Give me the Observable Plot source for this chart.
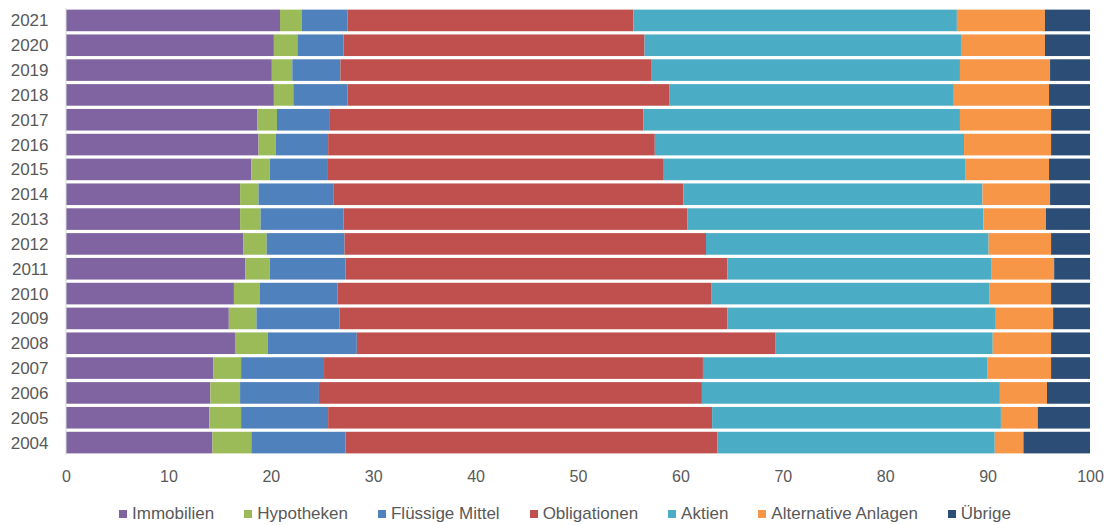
<!DOCTYPE html>
<html>
<head>
<meta charset="utf-8">
<script src="https://cdn.jsdelivr.net/npm/d3@7"></script>
<script src="https://cdn.jsdelivr.net/npm/@observablehq/plot@0.6"></script>
<style>
  body { margin: 0; background: #fff; font-family: "Liberation Sans", Arial, sans-serif; }
  #chart svg { display: block; }
  .legend { display: flex; justify-content: center; align-items: center; margin-top: 9px; height: 20px; color: #595959; font-size: 17px; padding-left: 18px; }
  .legend .item { display: flex; align-items: center; margin: 0 15px; }
  .legend .sw { width: 8px; height: 8px; margin-right: 5px; }
</style>
</head>
<body>
<div id="chart"></div>
<script>
const years = ["2004","2005","2006","2007","2008","2009","2010","2011","2012","2013","2014","2015","2016","2017","2018","2019","2020","2021"];
const seriesNames = ["Immobilien","Hypotheken","Flüssige Mittel","Obligationen","Aktien","Alternative Anlagen","Übrige"];
const seriesColors = ["#8064A2","#9BBB59","#4F81BD","#C0504D","#4BACC6","#F79646","#2C4D75"];
// values per year, 2004 .. 2021 (percent)
const immobilien   = [14.3,14.0,14.1,14.4,16.5,15.9,16.4,17.5,17.3,17.0,17.0,18.1,18.8,18.7,20.3,20.1,20.3,20.9];
const hypotheken   = [3.8,3.1,2.9,2.7,3.2,2.7,2.5,2.4,2.3,2.0,1.8,1.8,1.7,1.9,1.9,2.0,2.3,2.1];
const fluessige    = [9.2,8.5,7.7,8.1,8.7,8.1,7.6,7.4,7.6,8.1,7.3,5.6,5.1,5.1,5.3,4.7,4.5,4.5];
const obligationen = [36.3,37.5,37.4,37.0,40.9,37.9,36.5,37.3,35.3,33.6,34.2,32.8,31.9,30.7,31.4,30.4,29.4,27.9];
const aktien       = [27.1,28.2,29.1,27.8,21.2,26.2,27.2,25.8,27.6,28.9,29.2,29.5,30.2,30.9,27.8,30.1,30.9,31.6];
const alternative  = [2.8,3.6,4.6,6.2,5.7,5.6,6.0,6.1,6.1,6.1,6.6,8.2,8.5,8.9,9.3,8.8,8.2,8.6];
const uebrige      = [6.5,5.1,4.2,3.8,3.8,3.6,3.8,3.5,3.8,4.3,3.9,4.0,3.8,3.8,4.0,3.9,4.4,4.4];
const xTicks = [0,10,20,30,40,50,60,70,80,90,100];

const seriesValues = [immobilien, hypotheken, fluessige, obligationen, aktien, alternative, uebrige];
const data = [];
seriesNames.forEach((s, i) => {
  years.forEach((y, j) => data.push({year: y, series: s, value: seriesValues[i][j]}));
});

const chart = Plot.plot({
  width: 1112,
  height: 495,
  marginLeft: 66,
  marginRight: 22,
  marginTop: 8,
  marginBottom: 40,
  style: { fontFamily: "'Liberation Sans', Arial, sans-serif", color: "#595959", background: "#fff" },
  x: { domain: [0, 100], ticks: xTicks, label: null },
  y: { domain: years.slice().reverse(), paddingInner: 0.13, paddingOuter: 0.065, round: false, label: null },
  color: { domain: seriesNames, range: seriesColors },
  marks: [
    Plot.barX(data, Plot.stackX({ y: "year", x: "value", fill: "series", order: seriesNames, inset: 0 })),
    Plot.ruleX([0], { stroke: "#d9d9d9", strokeWidth: 1, dx: -0.5 }),
    Plot.axisX({ ticks: xTicks, tickSize: 0, tickPadding: 15, fontSize: 16, fill: "#595959", label: null }),
    Plot.axisY({ tickSize: 0, tickPadding: 18, fontSize: 17, fill: "#595959", label: null })
  ]
});
document.getElementById("chart").appendChild(chart);

const legend = document.createElement("div");
legend.className = "legend";
seriesNames.forEach((s, i) => {
  const item = document.createElement("div");
  item.className = "item";
  const sw = document.createElement("span");
  sw.className = "sw";
  sw.style.background = seriesColors[i];
  const t = document.createElement("span");
  t.textContent = s;
  item.appendChild(sw);
  item.appendChild(t);
  legend.appendChild(item);
});
document.getElementById("chart").appendChild(legend);
</script>
</body>
</html>
